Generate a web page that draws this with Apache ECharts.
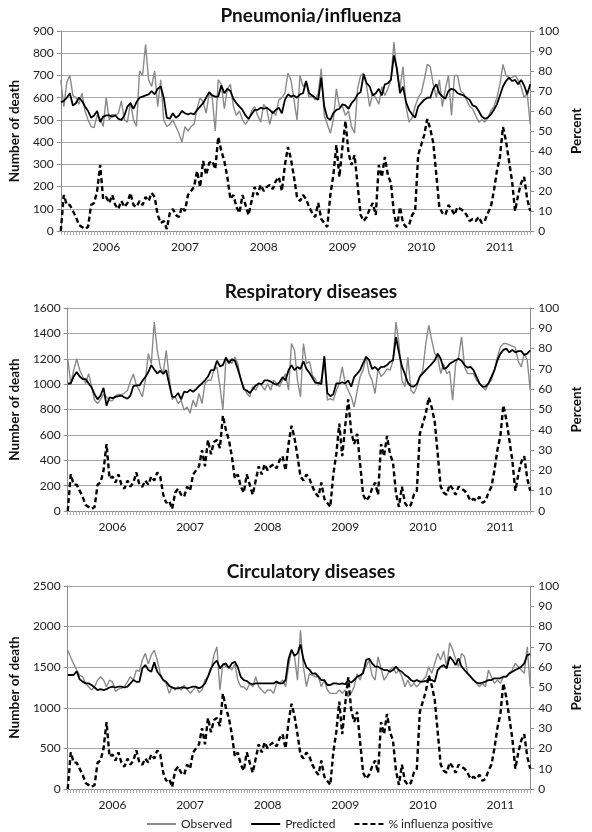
<!DOCTYPE html>
<html><head><meta charset="utf-8">
<script src="https://cdn.jsdelivr.net/npm/echarts@6/dist/echarts.min.js"></script>
<style>html,body{margin:0;padding:0;background:#fff}#c{width:592px;height:832px}</style>
</head><body><div id="c"></div>
<script>
// Bi-weekly periods; period 1 of each year carries the year tick label
const yearLabels = ['2006','2007','2008','2009','2010','2011'];
const periodsBeforeFirstYear = 15;
const periodsPerYear = 26;
const nPeriods = 156;

// % influenza positive (right axis, same in every panel)
const flu = [0,18,13,13,10,7,3,2,1,2,
13,14,20,33,16,17,14,18,13,11,
15,12,14,19,13,12,15,13,17,15,
19,17,8,4,5,1,9,11,8,7,
12,10,18,20,22,30,22,35,28,34,
35,31,47,40,35,27,16,18,12,9,
18,13,8,15,22,18,23,20,22,23,
21,25,27,20,33,42,36,27,17,15,
18,16,12,9,7,14,6,4,2,18,
28,43,27,42,55,39,33,38,23,8,
5,7,11,14,8,33,27,37,28,24,
9,2,12,4,2,3,8,10,38,43,
48,56,51,44,28,12,9,8,13,11,
8,12,11,10,8,5,6,5,7,4,
5,9,12,20,30,37,52,45,35,25,
10,18,24,27,16,10];

// Pneumonia/influenza
const pnObs = [680,560,670,700,610,600,570,620,540,500,
470,465,520,505,470,600,500,525,520,530,
585,500,490,580,500,470,720,700,840,680,
650,720,560,680,500,470,480,500,470,440,
400,470,450,470,480,550,600,580,530,620,
600,450,680,660,550,640,660,560,520,540,
500,480,500,540,560,520,490,570,550,480,
540,520,590,600,620,710,680,590,500,700,
650,670,600,610,590,620,730,520,480,440,
500,640,560,560,520,540,470,440,640,700,
710,650,560,620,600,570,650,610,640,680,
850,710,640,740,560,490,510,560,600,620,
680,750,740,660,600,680,560,640,700,520,
700,700,630,620,590,560,550,520,490,500,
490,510,540,560,600,660,750,700,690,690,
700,680,650,600,620,480];
const pnPred = [580,585,600,620,565,575,600,585,560,540,
510,520,540,490,515,520,520,515,520,505,
500,520,560,575,550,580,600,605,610,615,
630,615,640,650,600,510,505,530,510,520,
540,530,525,530,525,545,560,575,600,625,
610,605,605,655,620,640,630,595,575,560,
545,520,505,525,545,545,555,550,555,545,
530,545,555,530,590,615,605,610,600,615,
620,675,620,610,600,590,690,560,510,500,
530,545,550,570,565,550,575,590,615,625,
705,665,650,610,620,640,610,660,665,680,
790,730,620,650,580,545,525,510,560,575,
590,600,600,640,660,620,605,595,630,640,
635,620,615,610,600,590,565,560,540,515,
505,510,525,545,570,610,650,675,690,675,
680,660,680,655,615,660];

// Respiratory diseases
const resObs = [1200,1005,1110,1200,1110,1060,1005,1083,980,873,
847,880,920,900,870,870,910,920,915,930,
950,1020,1080,990,950,900,1030,1240,1160,1490,
1267,1136,1083,1267,1057,880,900,847,873,795,
820,770,873,820,926,847,1005,1030,1030,1110,
1136,980,800,1188,1188,1162,1214,1162,1030,980,
926,900,980,952,1005,990,952,1005,952,1030,
1005,980,1030,1083,952,1320,1267,1030,900,1320,
1160,1180,1070,1040,990,1040,1200,873,885,873,
950,1005,1136,1005,950,900,820,950,1060,1110,
1214,1083,1030,926,1120,1060,1083,1120,1110,1180,
1490,1320,1030,980,1214,952,926,980,1057,1110,
1320,1464,1345,1240,1214,1083,1160,1083,1100,873,
1160,1214,1372,1136,1083,1083,1083,1030,1005,980,
952,1005,1030,1110,1214,1293,1320,1320,1310,1300,
1290,1180,1136,1240,1190,952];
const resPred = [1005,1005,1060,1096,1060,1040,1040,1005,975,920,
880,910,970,830,895,890,900,905,910,895,
885,910,985,990,990,1025,1055,1095,1150,1115,
1085,1105,1080,1110,1000,900,900,930,880,940,
935,955,940,960,985,1005,1030,1060,1110,1110,
1185,1140,1150,1210,1165,1195,1185,1120,1040,960,
950,930,960,990,1005,1000,1030,1030,1020,1005,
995,1015,1055,1030,1110,1150,1110,1135,1120,1180,
1120,1090,1050,1010,1010,1000,1220,930,905,920,
1005,1005,1015,1005,1030,980,1057,1083,1110,1165,
1214,1190,1120,1135,1110,1136,1136,1150,1175,1188,
1370,1250,1140,1080,1010,985,980,1000,1060,1085,
1110,1135,1160,1188,1240,1200,1120,1130,1160,1175,
1188,1200,1185,1150,1130,1136,1110,1057,1005,980,
980,1005,1057,1110,1188,1240,1270,1280,1250,1270,
1250,1260,1260,1230,1240,1267];

// Circulatory diseases
const cirObs = [1710,1620,1540,1465,1400,1383,1301,1260,1219,1260,
1342,1383,1342,1260,1340,1320,1200,1230,1240,1260,
1320,1383,1342,1465,1450,1588,1670,1540,1649,1710,
1588,1420,1342,1300,1178,1260,1220,1260,1219,1280,
1230,1180,1219,1260,1190,1219,1342,1383,1465,1649,
1751,1219,1550,1506,1506,1465,1540,1342,1260,1260,
1219,1300,1260,1383,1260,1219,1180,1219,1219,1178,
1301,1301,1342,1260,1506,1710,1629,1340,1956,1500,
1260,1420,1400,1383,1383,1260,1342,1219,1178,1178,
1178,1219,1178,1219,1138,1178,1260,1420,1342,1465,
1506,1588,1400,1342,1629,1485,1342,1400,1465,1506,
1424,1465,1383,1260,1342,1260,1301,1260,1301,1342,
1383,1506,1424,1547,1670,1588,1700,1500,1800,1720,
1600,1506,1670,1629,1424,1383,1342,1301,1260,1301,
1260,1465,1383,1301,1342,1301,1383,1383,1424,1465,
1547,1506,1465,1424,1751,1260];
const cirPred = [1404,1404,1404,1450,1350,1322,1301,1301,1280,1250,
1219,1230,1219,1230,1250,1260,1250,1260,1260,1250,
1260,1301,1342,1320,1320,1485,1526,1465,1444,1560,
1444,1400,1342,1320,1270,1250,1240,1240,1250,1250,
1240,1250,1260,1260,1240,1260,1300,1383,1485,1547,
1580,1485,1530,1547,1490,1547,1567,1500,1380,1342,
1330,1301,1290,1301,1301,1301,1301,1301,1301,1301,
1322,1301,1301,1342,1600,1716,1640,1670,1780,1600,
1500,1470,1420,1424,1383,1342,1342,1281,1281,1301,
1301,1290,1301,1290,1340,1310,1342,1383,1400,1424,
1588,1608,1547,1506,1506,1485,1465,1465,1444,1465,
1506,1465,1444,1404,1383,1342,1322,1342,1322,1322,
1330,1342,1342,1322,1465,1506,1526,1485,1629,1588,
1526,1608,1506,1465,1424,1383,1342,1310,1301,1310,
1322,1342,1342,1363,1363,1363,1383,1383,1424,1444,
1465,1485,1506,1547,1650,1660];

const panelTitles = ['Pneumonia/influenza','Respiratory diseases','Circulatory diseases'];
const leftMax = [900,1600,2500];
const leftStep = [100,200,500];
const seriesNames = ['Observed','Predicted','% influenza positive'];

// category labels: "YYYY-P" bi-weekly periods
const cats = [];
for (let i = 0; i < nPeriods; i++) {
  const k = i - periodsBeforeFirstYear;
  const yi = Math.floor(k / periodsPerYear);
  const p = ((k % periodsPerYear) + periodsPerYear) % periodsPerYear + 1;
  const y = yi >= 0 ? yearLabels[yi] : String(Number(yearLabels[0]) + yi);
  cats.push(y + '-' + p);
}

const FONT = 'Lato';
const gridDefs = [
  {left:51, right:47, top:31, height:200},
  {left:51, right:47, top:308, height:203},
  {left:51, right:47, top:586, height:203}
];
const titleTops = [1, 277, 557];
const obsData = [pnObs, resObs, cirObs];
const predData = [pnPred, resPred, cirPred];

const axisGray = '#8c8c8c';
const option = {
  animation:false,
  backgroundColor:'#fff',
  textStyle:{fontFamily:FONT},
  title: panelTitles.map((t,i)=>({text:t, left:306, top:titleTops[i], textAlign:'center',
    textStyle:{fontFamily:FONT, fontWeight:'bold', fontSize:19, color:'#111'}})),
  grid: gridDefs,
  legend:{top:813, left:141, itemWidth:29, itemHeight:10, itemGap:18,
    data:seriesNames, itemStyle:{opacity:0},
    textStyle:{fontFamily:FONT, fontSize:12, color:'#222'}},
  xAxis: gridDefs.map((g,i)=>({type:'category', gridIndex:i, data:cats, boundaryGap:false,
    axisLine:{lineStyle:{color:axisGray}},
    axisTick:{show:true, interval:0, length:4, lineStyle:{color:'#aaa'}},
    axisLabel:{interval:(idx,val)=>/-1$/.test(val), formatter:v=>v.slice(0,4),
      fontSize:12, color:'#222', margin:10, fontFamily:FONT},
    splitLine:{show:false}})),
  yAxis: [],
  series: []
};
for (let i=0;i<3;i++){
  option.yAxis.push({type:'value', gridIndex:i, position:'left', min:0, max:leftMax[i], interval:leftStep[i],
    axisLine:{show:true, lineStyle:{color:axisGray}},
    axisTick:{show:true, length:4, lineStyle:{color:axisGray}},
    splitLine:{show:true, lineStyle:{color:'#a6a6a6', width:1}},
    axisLabel:{fontSize:12, color:'#222', margin:7, fontFamily:FONT, formatter:v=>String(v)},
    name:'Number of death', nameLocation:'middle', nameGap:34, nameRotate:90,
    nameTextStyle:{fontFamily:FONT, fontWeight:'bold', fontSize:13.5, color:'#111'}});
  option.yAxis.push({type:'value', gridIndex:i, position:'right', min:0, max:100, interval:10,
    axisLine:{show:true, lineStyle:{color:axisGray}},
    axisTick:{show:true, length:4, lineStyle:{color:axisGray}},
    splitLine:{show:false},
    axisLabel:{fontSize:12, color:'#222', margin:8, fontFamily:FONT, formatter:v=>String(v)},
    name:'Percent', nameLocation:'middle', nameGap:34, nameRotate:90,
    nameTextStyle:{fontFamily:FONT, fontWeight:'bold', fontSize:13.5, color:'#111'}});
  option.series.push({name:seriesNames[0], type:'line', xAxisIndex:i, yAxisIndex:2*i, data:obsData[i],
    symbol:'none', lineStyle:{color:'#8a8a8a', width:1.4}, itemStyle:{color:'#8a8a8a'}, z:2});
  option.series.push({name:seriesNames[1], type:'line', xAxisIndex:i, yAxisIndex:2*i, data:predData[i],
    symbol:'none', lineStyle:{color:'#000', width:1.8}, itemStyle:{color:'#000'}, z:3});
  option.series.push({name:seriesNames[2], type:'line', xAxisIndex:i, yAxisIndex:2*i+1, data:flu,
    symbol:'none', lineStyle:{color:'#000', width:2.4, type:[5,3]}, itemStyle:{color:'#000'}, z:4});
}
const chart = echarts.init(document.getElementById('c'), null, {renderer:'canvas'});
chart.setOption(option);
</script></body></html>
